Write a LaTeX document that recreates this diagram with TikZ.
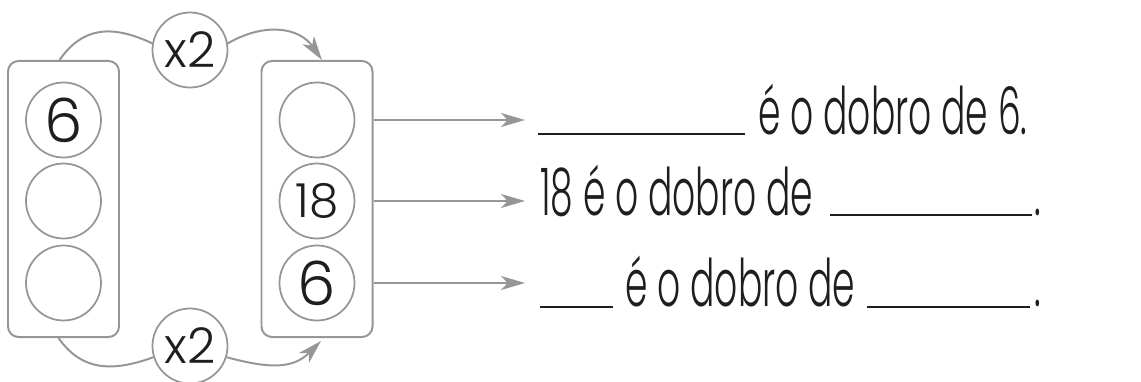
\documentclass[tikz,border=0pt]{standalone}
\usepackage{fontspec}
\setmainfont{Poppins}[UprightFont={* Light}]
\usetikzlibrary{positioning,calc,arrows.meta}
\definecolor{frame}{RGB}{150,150,150}
\definecolor{ink}{RGB}{30,30,30}
\tikzset{%
  holder/.style={draw=frame, line width=1.7pt, rounded corners=9pt,
    minimum width=3.33cm, minimum height=8.28cm},% column of slots
  slot/.style={draw=frame, fill=white, circle, line width=1.5pt, minimum size=2.25cm,
    inner sep=0pt, text=ink, font=\fontsize{52}{52}\selectfont},% number circle
  times/.style={slot, font=\fontsize{42}{42}\selectfont},% x2 operator
  small/.style={font=\fontsize{40}{40}\selectfont},% two digit number
  link/.style={draw=frame, line width=1.7pt},% curved link
  pointer/.style={link, -{Stealth[length=0.72cm, width=0.42cm, inset=0.2cm]}},% arrows
  sentence/.style={anchor=base west, inner sep=0pt, text=ink, xscale=0.55,
    font=\fontsize{56}{56}\selectfont},% cursive line
  blank/.style={draw=ink, line width=0.9pt}% line to fill in
}
\begin{document}
\begin{tikzpicture}[x=0.03cm, y=0.03cm]
\useasboundingbox (0,0) rectangle (1141,381);

\node[holder] (left) at (63.5,182) {};
\node[holder] (right) at (317,182) {};

\node[slot] (l1) at (63.5,261) {6};
\node[slot] (l2) at (63.5,180) {};
\node[slot] (l3) at (63.5,98) {};
\node[slot] (r1) at (317,261) {};
\node[slot, small] (r2) at (317,180) {18};
\node[slot] (r3) at (317,98) {6};

\node[times] (ttop) at (190,331) {x2};
\node[times] (tbot) at (190,35) {x2};

\coordinate (ltop) at ($(left.north)+(-4,0)$);
\coordinate (rtop) at ($(right.north)+(5,0)$);
\coordinate (lbot) at ($(left.south)+(-5,0)$);
\coordinate (rbot) at ($(right.south)+(4,-3)$);
\draw[link] (ltop) to[out=55, in=155, looseness=1.15] (ttop.170);
\draw[pointer] (ttop.10) to[out=30, in=125, looseness=1.1] (rtop);
\draw[link] (lbot) to[out=-55, in=200, looseness=1.1] (tbot.197);
\draw[pointer] (tbot.-17) to[out=-15, in=-135, looseness=1.1] (rbot);

\coordinate (tip1) at (525,261);
\coordinate (tip2) at (525,180);
\coordinate (tip3) at (525,98);
\draw[pointer] (r1 -| right.east) -- (tip1);
\draw[pointer] (r2 -| right.east) -- (tip2);
\draw[pointer] (r3 -| right.east) -- (tip3);

% first line
\coordinate (b1s) at (538,247);
\coordinate (b1e) at (745,247);
\draw[blank] (b1s) -- (b1e);
\node[sentence] (s1) at (758,247) {é o dobro de 6.};
% second line
\node[sentence] (s2) at (540,166) {18 é o dobro de};
\coordinate (b2s) at (830,166);
\coordinate (b2e) at (1032,166);
\draw[blank] (b2s) -- (b2e);
\node[sentence] (p2) at (1034,166) {.};
% third line
\coordinate (b3s) at (540,74);
\coordinate (b3e) at (613,74);
\draw[blank] (b3s) -- (b3e);
\node[sentence] (s3) at (625,75) {é o dobro de};
\coordinate (b4s) at (867,74);
\coordinate (b4e) at (1030,74);
\draw[blank] (b4s) -- (b4e);
\node[sentence] (p3) at (1034,75) {.};
\end{tikzpicture}
\end{document}
